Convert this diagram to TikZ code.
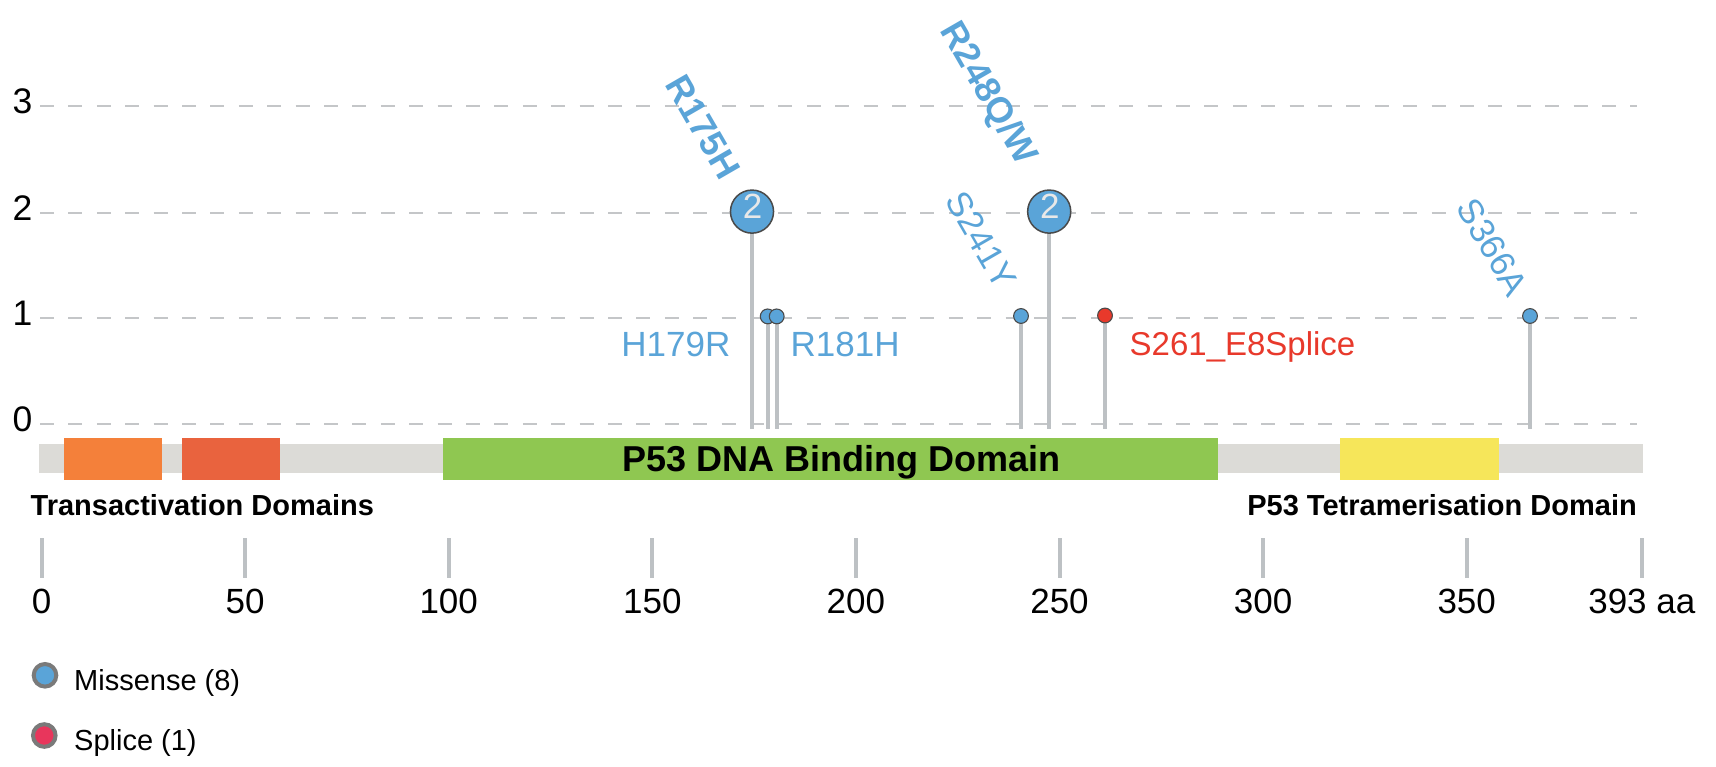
\documentclass[tikz,border=0pt]{standalone}
\usepackage{fontspec}
\setmainfont{Liberation Sans}
\definecolor{mblue}{HTML}{5AA4D8}
\definecolor{mred}{HTML}{E8392B}
\definecolor{sred}{HTML}{E8365C}
\definecolor{gridc}{HTML}{C4C6C8}
\definecolor{stickc}{HTML}{BDC1C4}
\definecolor{barc}{HTML}{DCDBD7}
\definecolor{tadone}{HTML}{F4803A}
\definecolor{tadtwo}{HTML}{E9633E}
\definecolor{dbd}{HTML}{8FC751}
\definecolor{tet}{HTML}{F6E65A}
\definecolor{pinstroke}{HTML}{4A4A4A}
\definecolor{legstroke}{HTML}{7A7A7A}
\definecolor{numc}{HTML}{E8E8E8}
\newcommand{\myfs}[1]{\fontsize{#1}{#1}\selectfont}
\tikzset{
  gridline/.style={draw=gridc, line width=2pt, dash pattern=on 14pt off 14.4pt},
  stick/.style={draw=stickc, line width=3.6pt},
  axtick/.style={draw=stickc, line width=4pt},
  ylab/.style={anchor=base, inner sep=0pt, font=\myfs{35.5}},
  xlab/.style={anchor=base, inner sep=0pt, font=\myfs{35}},
  domainbox/.style={rectangle, inner sep=0pt, anchor=north west, minimum height=42.3pt},
  domlabel/.style={inner sep=0pt, font=\bfseries\myfs{29}},
  bigpin/.style={circle, fill=mblue, draw=pinstroke, line width=1.5pt, minimum size=43.1pt, inner sep=0pt},
  smallpin/.style={circle, draw=pinstroke, line width=1.1pt, minimum size=14.8pt, inner sep=0pt},
  pinnum/.style={inner sep=0pt, text=numc, font=\myfs{35}},
  rlab/.style={inner sep=0pt, rotate=-60, anchor=base east},
  boldlab/.style={text=mblue, font=\bfseries\myfs{36}},
  reglab/.style={text=mblue, font=\myfs{35}},
  legcirc/.style={circle, draw=legstroke, line width=4pt, minimum size=22.6pt, inner sep=0pt},
  legtext/.style={anchor=base west, inner sep=0pt, font=\myfs{29}}
}
\begin{document}
\begin{tikzpicture}[x=1pt,y=-1pt]
\useasboundingbox (0,0) rectangle (1716,766);
\fill[white] (0,0) rectangle (1716,766);
% grid and y labels
\foreach \yy/\lab in {106/3,212.5/2,318.3/1,423.5/0}{
  \draw[gridline] (40,\yy) -- (1637,\yy);
  \node[ylab] (y\lab) at (22.5,\yy+7.5) {\lab};
}
% protein bar and domains
\fill[barc] (39.3,444) rectangle (1643,473);
\node[domainbox, fill=tadone, minimum width=98.5pt] (tad1) at (63.5,437.7) {};
\node[domainbox, fill=tadtwo, minimum width=98.3pt] (tad2) at (181.7,437.7) {};
\node[domainbox, fill=dbd, minimum width=774.5pt] (dbd) at (443,437.7) {};
\node[domainbox, fill=tet, minimum width=159.5pt] (tet) at (1339.5,437.7) {};
\node[inner sep=0pt, anchor=base, font=\bfseries\myfs{36}] (dbdlab) at (841.7,471.5) {P53 DNA Binding Domain};
\node[domlabel, anchor=base west] (tadlab) at (30.5,515.5) {Transactivation Domains};
\node[domlabel, anchor=base east] (tetlab) at (1637,515.5) {P53 Tetramerisation Domain};
% baseline coordinate for sticks
\coordinate (axisbase) at (0,428.5);
\coordinate (c175) at (752,211.6);
\coordinate (c248) at (1049.2,211.6);
\coordinate (c179) at (767.7,316.4);
\coordinate (c181) at (776.7,316.4);
\coordinate (c241) at (1021,316);
\coordinate (c261) at (1105,315.5);
\coordinate (c366) at (1530,316);
\foreach \c in {c175,c179,c181,c241,c248,c261,c366}{
  \draw[stick] (\c) -- (\c |- axisbase);
}
% pins
\node[bigpin] (p175) at (c175) {};
\node[bigpin] (p248) at (c248) {};
\node[pinnum] (n175) at (752.6,206) {2};
\node[pinnum] (n248) at (1049.8,206) {2};
\node[smallpin, fill=mblue] (p179) at (c179) {};
\node[smallpin, fill=mblue] (p181) at (c181) {};
\node[smallpin, fill=mblue] (p241) at (c241) {};
\node[smallpin, fill=mred] (p261) at (c261) {};
\node[smallpin, fill=mblue] (p366) at (c366) {};
% mutation labels
\node[rlab, boldlab] (l175) at (721,182) {R175H};
\node[rlab, boldlab] (l248) at (1019,167.5) {R248Q/W};
\node[rlab, reglab] (l241) at (997,291.5) {S241Y};
\node[rlab, reglab] (l366) at (1508.5,299) {S366A};
\node[reglab, inner sep=0pt, anchor=base east] (l179) at (730.5,356) {H179R};
\node[reglab, inner sep=0pt, anchor=base west] (l181) at (790.5,356) {R181H};
\node[inner sep=0pt, anchor=base west, text=mred, font=\myfs{33}] (l261) at (1129.5,355.5) {S261\_E8Splice};
% x axis ticks
\foreach \aa in {0,50,100,150,200,250,300,350}{
  \pgfmathsetmacro{\xx}{41.5+4.072*\aa}
  \draw[axtick] (\xx,538) -- (\xx,578);
  \node[xlab] (t\aa) at (\xx,613) {\aa};
}
\pgfmathsetmacro{\xend}{41.5+4.072*393}
\draw[axtick] (\xend,538) -- (\xend,578);
\node[xlab] (t393) at (\xend,613) {393 aa};
% legend
\node[legcirc, fill=mblue] (lg1) at (45,675.3) {};
\node[legcirc, fill=sred] (lg2) at (44.3,735.5) {};
\node[legtext] (lt1) at (74,690) {Missense (8)};
\node[legtext] (lt2) at (74,750.5) {Splice (1)};
\end{tikzpicture}
\end{document}
